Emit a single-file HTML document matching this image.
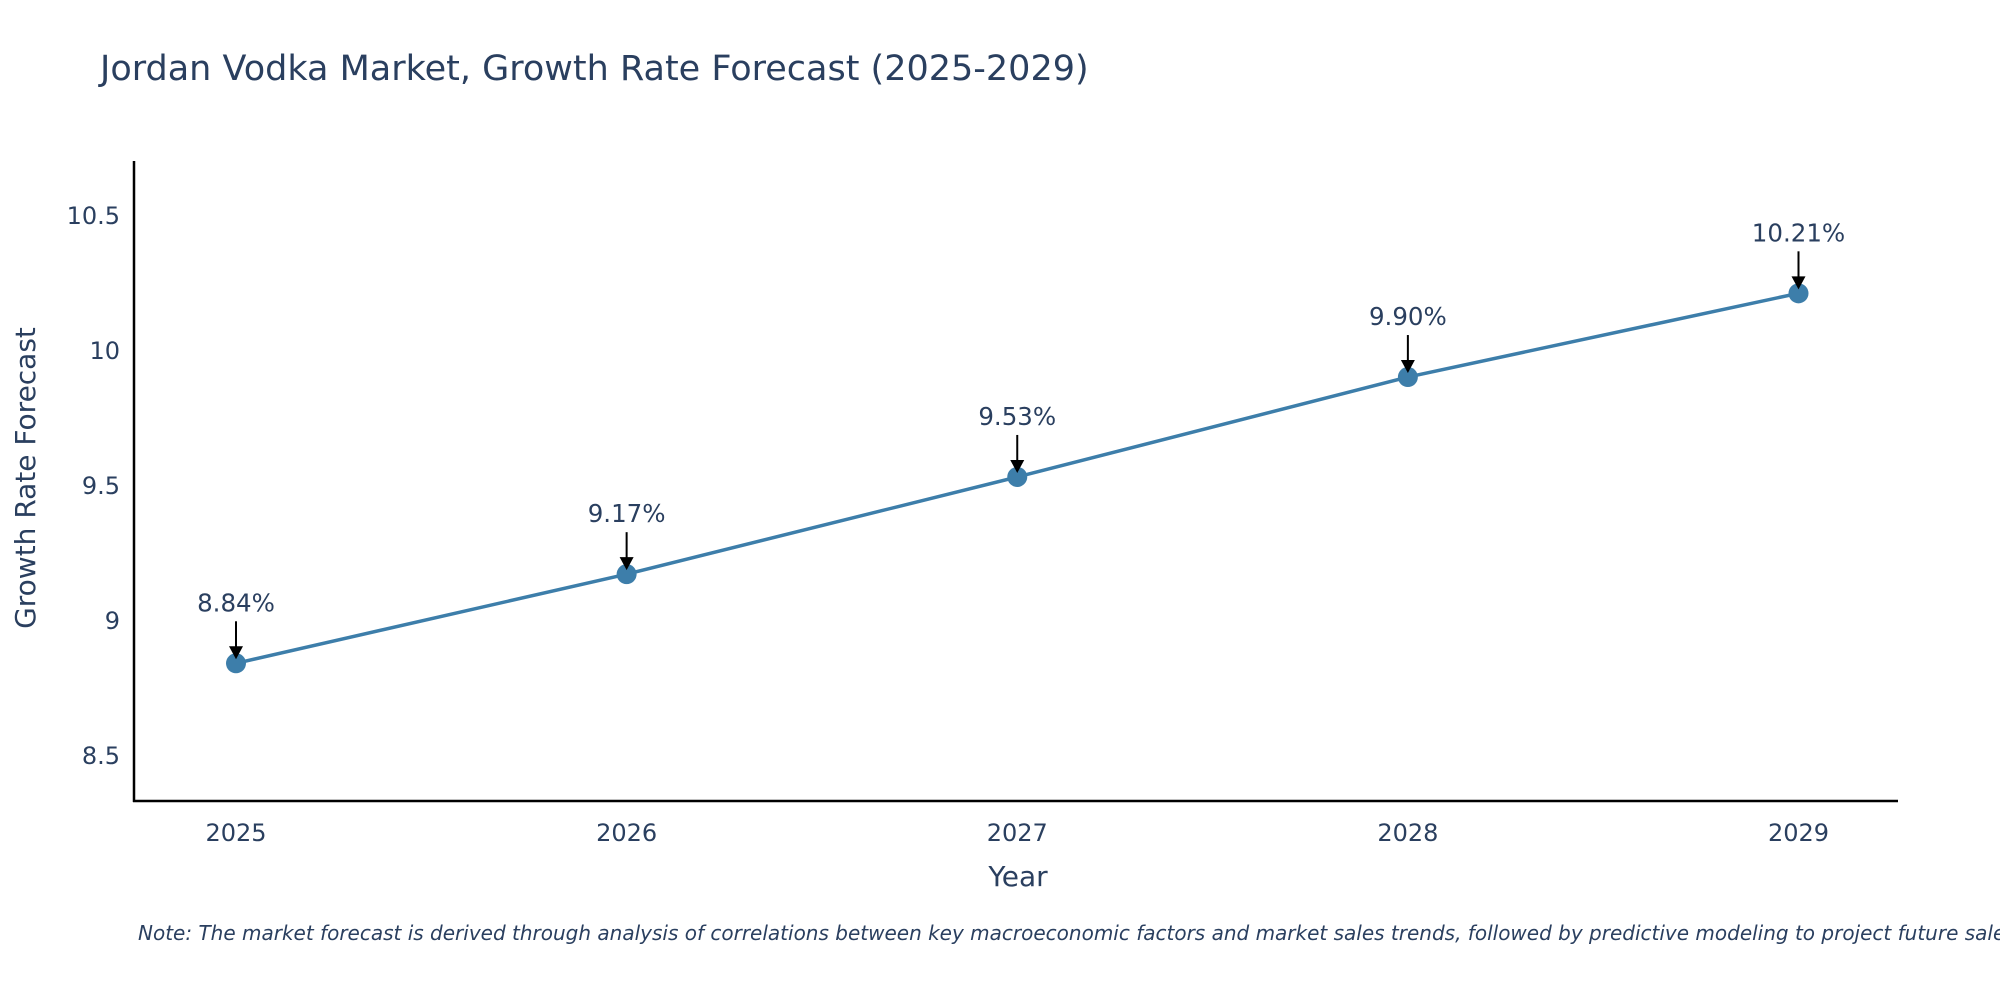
<!DOCTYPE html>
<html><head><meta charset="utf-8"><style>
body{margin:0;background:#fff;overflow:hidden;}
svg text{font-family:"DejaVu Sans","Liberation Sans",sans-serif;fill:#2a3f5f;}
</style></head><body>
<svg id="chart" width="2000" height="1000" viewBox="0 0 2000 1000" xmlns="http://www.w3.org/2000/svg">
<text x="100" y="80" font-size="35">Jordan Vodka Market, Growth Rate Forecast (2025-2029)</text>
<g id="axes"></g>
<g id="marks"></g>
<text x="1018" y="886" font-size="28" text-anchor="middle">Year</text>
<text transform="translate(35,478) rotate(-90)" font-size="28" text-anchor="middle">Growth Rate Forecast</text>
<text x="138" y="940" font-size="20" font-style="italic">Note: The market forecast is derived through analysis of correlations between key macroeconomic factors and market sales trends, followed by predictive modeling to project future sales.</text>
</svg>
<script>
const years=[2025,2026,2027,2028,2029];
const values=[8.84,9.17,9.53,9.90,10.21];
const labels=["8.84%","9.17%","9.53%","9.90%","10.21%"];
const yTicks=[8.5,9,9.5,10,10.5];
const yTickLabels=["8.5","9","9.5","10","10.5"];
const NS="http://www.w3.org/2000/svg";
const L=134,R=1898,T=161,B=801;
const yMin=8.33,yMax=10.70;
function xs(v){return 236+(v-2025)*(1798.5-236)/4;}
function ys(v){return B-(v-yMin)/(yMax-yMin)*(B-T);}
function mk(tag,attrs,parent){const e=document.createElementNS(NS,tag);for(const k in attrs)e.setAttribute(k,attrs[k]);parent.appendChild(e);return e;}
const axes=document.getElementById('axes'),marks=document.getElementById('marks');
const ya=mk('line',{x1:L,y1:T,x2:L,y2:B+1,stroke:'#000','stroke-width':2.5},axes);


const xa=mk('line',{x1:L-1,y1:B,x2:R,y2:B,stroke:'#000','stroke-width':2.5},axes);


yTicks.forEach((t,i)=>{const e=mk('text',{x:L-14,y:ys(t)+9,'font-size':24,'text-anchor':'end'},axes);e.textContent=yTickLabels[i];

});
years.forEach(y=>{const e=mk('text',{x:xs(y),y:B+40,'font-size':24,'text-anchor':'middle'},axes);e.textContent=String(y);

});
const pts=years.map((y,i)=>xs(y)+','+ys(values[i])).join(' ');
const line=mk('polyline',{points:pts,fill:'none',stroke:'#3d7eaa','stroke-width':3.5},marks);


years.forEach((y,i)=>{const cx=xs(y),cy=ys(values[i]);
const c=mk('circle',{cx:cx,cy:cy,r:10,fill:'#3d7eaa'},marks);


const a=mk('line',{x1:cx,y1:cy-42,x2:cx,y2:cy-14,stroke:'#000','stroke-width':2},marks);


const h=mk('polygon',{points:`${cx-7},${cy-17} ${cx+7},${cy-17} ${cx},${cy-4}`,fill:'#000'},marks);


const t=mk('text',{x:cx,y:cy-52,'font-size':24.5,'text-anchor':'middle'},marks);t.textContent=labels[i];

});
</script>
</body></html>
